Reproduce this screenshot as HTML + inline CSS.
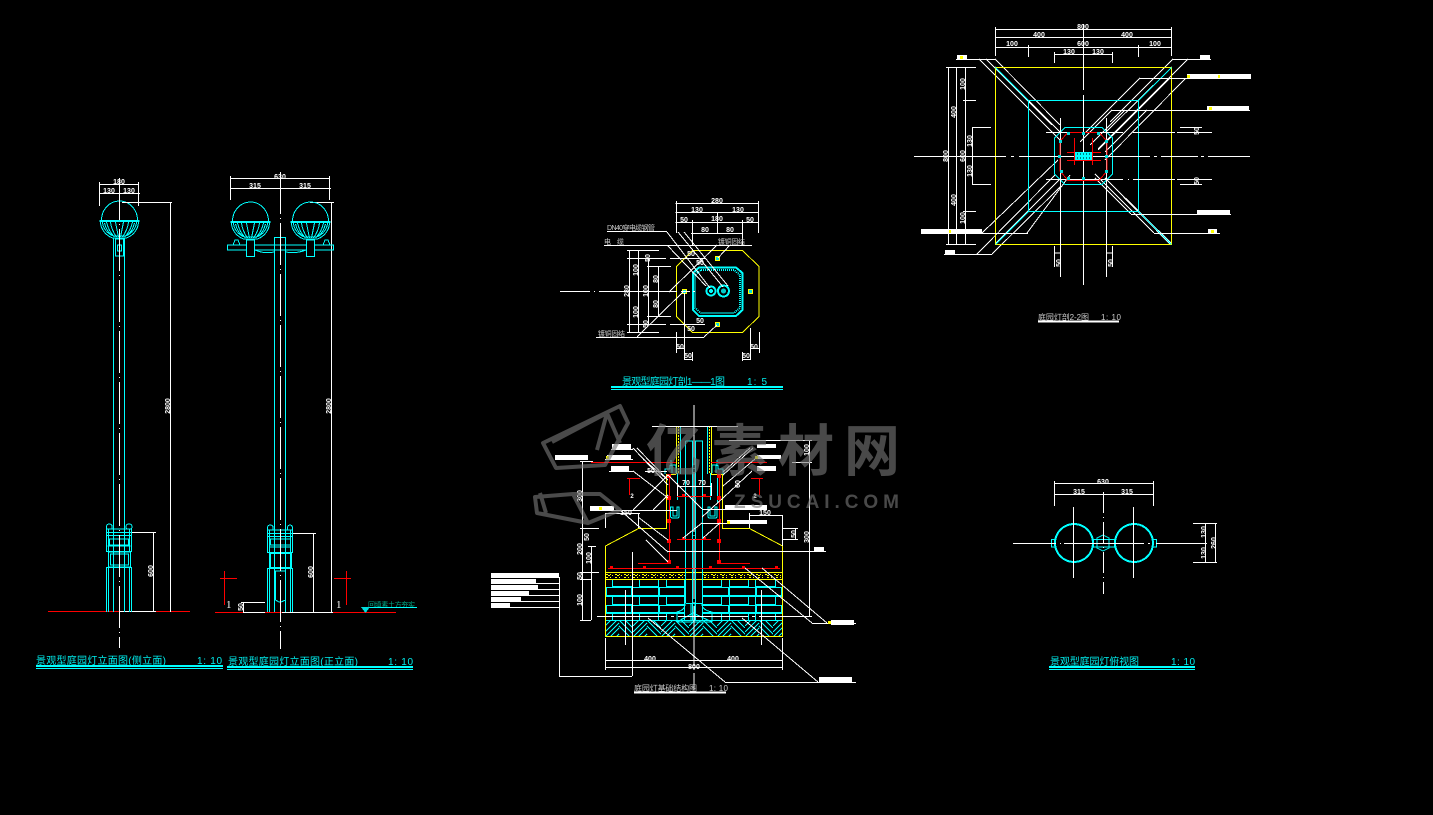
<!DOCTYPE html>
<html lang="zh"><head><meta charset="utf-8"><title>景观型庭园灯</title>
<style>
html,body{margin:0;padding:0;background:#000;width:1433px;height:815px;overflow:hidden}
svg{display:block}
.w{fill:none;stroke:#fff;stroke-width:1}
.c{fill:none;stroke:#0ff;stroke-width:1}
.c2{fill:none;stroke:#0ff;stroke-width:2}
.r{fill:none;stroke:#f00;stroke-width:1}
.y{fill:none;stroke:#ff0;stroke-width:1}
.t{font:bold 7px "Liberation Sans",sans-serif;fill:#fff;text-anchor:middle}
.ti{font:10px "Liberation Sans","Noto Sans CJK SC",sans-serif;fill:#0ee}
.tw{font:9px "Liberation Sans","Noto Sans CJK SC",sans-serif;fill:#ccc}
</style></head><body>
<svg width="1433" height="815" viewBox="0 0 1433 815" xmlns="http://www.w3.org/2000/svg" shape-rendering="crispEdges">
<defs>
<g id="globe">
<path class="c" d="M-18 -1A18 19 0 0 1 18 -1"/>
<path class="c2" d="M-20 0H20"/>
<path class="c" d="M-19 1A20 18 0 0 0 -7 17H7A20 18 0 0 0 19 1M-17 1A18 16 0 0 0 -6 15H6A18 16 0 0 0 17 1"/>
<path class="c" d="M-13 1Q-11 10 -5 16M-9 1Q-8 9 -3 16M-4 1L-1 16M13 1Q11 10 5 16M9 1Q8 9 3 16M4 1L1 16M-15 2Q-13 10 -8 14M15 2Q13 10 8 14"/>
</g>
<pattern id="earth" width="28" height="17" patternUnits="userSpaceOnUse" patternTransform="translate(605 620)">
<path class="c" d="M0 6L6 0M0 12L12 0M0 17L14 3M5 17L14 8M11 17L14 14M14 0L31 17M20 0L28 8M14 6L25 17"/>
</pattern>
</defs>
<rect width="1433" height="815" fill="#000"/>

<!-- side elevation -->
<path class="r" d="M48 611.500H120M156 611.500H190"/>
<path class="w" d="M120 611.500H156"/>
<use href="#globe" x="119.500" y="221"/>
<path class="c" d="M113.500 238V612M124.500 238V612M115.500 239H123.500V256H115.500ZM117.500 245H121.500V251H117.500Z"/>
<path class="c" d="M106.500 529H131.500V551.500H106.500ZM108.500 529V551.500M129.500 529V551.500M106.500 532.500H131.500M106.500 535.500H131.500M109.500 539H128.500V545H109.500ZM107.500 546H130.500"/>
<path class="c" d="M108.500 552H130.500V567H108.500ZM110.500 554H128.500V565H110.500ZM106.500 567.500H131.500M106.500 567V612M108.500 567V612M129.500 567V612M131.500 567V612"/>
<path class="c" d="M106.500 529Q106 524 109 524Q113 524 112 529M126.500 529Q125 524 129 524Q133 524 131.500 529"/>
<path class="w" stroke-dasharray="42 4 1 4" d="M119.500 178V648"/>
<path class="w" d="M99.500 182V206M138.500 182V206M99 184.500H139M99 193.500H140M122 202.500H172M170.500 202V612M132 532.500H156M153.500 532V612"/>
<text class="t" x="119" y="184">180</text><text class="t" x="109" y="193">130</text><text class="t" x="129" y="193">130</text>
<text class="t" transform="rotate(-90 170 406)" x="170" y="406">2800</text>
<text class="t" transform="rotate(-90 153 571)" x="153" y="571">600</text>
<text class="ti" x="36" y="664" textLength="130" lengthAdjust="spacing">景观型庭园灯立面图(侧立面)</text>
<text class="ti" x="197" y="664" textLength="25" lengthAdjust="spacing">1: 10</text>
<path class="c2" d="M36 666H223"/><path class="c" d="M36 668.500H223"/>

<!-- front elevation -->
<path class="r" d="M215 612.500H396"/>
<path class="w" d="M243 612.500H265M282 612.500H333M241 602.500H265M243.500 602V612M293 533.500H316M313.500 533V612M230.500 176V200M329.500 176V200M230 178.500H330M230 188.500H331M310 202.500H334M331.500 202V612"/>
<use href="#globe" x="250.500" y="222"/><use href="#globe" x="310.500" y="222"/>
<path class="c" d="M274.500 237.500H285.500V612M274.500 237V612M227.500 245H333.500V250H227.500Z"/>
<rect x="247" y="241" width="7" height="15" fill="#000"/><rect x="307" y="241" width="7" height="15" fill="#000"/>
<path class="c" d="M246.500 240H254.500V256.500H246.500ZM306.500 240H314.500V256.500H306.500ZM255 250Q264 254 274 252M306 250Q296 254 286 252"/>
<path class="c" d="M233 245L235 240L238 240L240 245M323 245L325 240L328 240L330 245"/>
<path class="c" d="M267.500 530H292.500V552.500H267.500ZM269.500 530V552.500M290.500 530V552.500M267.500 533.500H292.500M267.500 536.500H292.500M270.500 539H290.500V545H270.500ZM269 547H291"/>
<path class="c2" d="M270 553H291V568H270Z"/>
<path class="c" d="M267.500 568.500H292.500M267.500 568V612M269.500 568V612M290.500 568V612M292.500 568V612M275.500 571H285.500V600L281 602H279L275.500 600Z"/>
<path class="c" d="M267.500 530Q267 525 270 525Q274 525 273 530M287.500 530Q287 525 290 525Q293 525 292.500 530"/>
<path class="w" stroke-dasharray="42 4 1 4" d="M280.500 172V649"/>
<path class="r" d="M224.500 571V605M220 578.500H237M346.500 571V605M334 578.500H351"/>
<text font-family="Liberation Serif,serif" font-size="11" fill="#fff" x="226" y="608">1</text>
<text font-family="Liberation Serif,serif" font-size="11" fill="#fff" x="336" y="608">1</text>
<text class="t" x="280" y="179">630</text><text class="t" x="255" y="188">315</text><text class="t" x="305" y="188">315</text>
<text class="t" transform="rotate(-90 331 406)" x="331" y="406">2800</text>
<text class="t" transform="rotate(-90 313 572)" x="313" y="572">600</text>
<text class="t" transform="rotate(-90 243 607)" x="243" y="607">50</text>
<text font-family="Liberation Sans,Noto Sans CJK SC,sans-serif" font-size="7" fill="#0a8" x="368" y="607" textLength="47" lengthAdjust="spacing">回填素土方夯实</text>
<path class="c" d="M366 607.500H417"/><path fill="#0dd" d="M361 607H370L365.500 613Z"/>
<text class="ti" x="228" y="665" textLength="130" lengthAdjust="spacing">景观型庭园灯立面图(正立面)</text>
<text class="ti" x="388" y="665" textLength="25" lengthAdjust="spacing">1: 10</text>
<path class="c2" d="M227 667H413"/><path class="c" d="M227 669.500H413"/>

<!-- section 1-1 -->
<path class="y" d="M692.500 250.500H742.500L759 266.500V316.500L742.500 332.500H692.500L676.500 316.500V266.500Z"/>
<path class="c2" d="M699 267.500H736L742.500 273V310L736 316H699L693 310V273Z"/>
<path fill="none" stroke="#0ff" stroke-width="2" stroke-dasharray="1 1" d="M701 270H734L740 275V308L734 313H701L695 308V275Z"/>
<circle class="c2" cx="711" cy="291" r="4.500"/><circle fill="#0ff" cx="711" cy="291" r="2"/>
<circle class="c2" cx="723.500" cy="291" r="5.500"/><circle fill="#0cc" cx="723.500" cy="291" r="2.500"/>
<g fill="#ff0"><rect x="715" y="256" width="5" height="5"/><rect x="715" y="322" width="5" height="5"/><rect x="682" y="289" width="5" height="5"/><rect x="748" y="289" width="5" height="5"/></g>
<g fill="#0dd"><rect x="716" y="257" width="3" height="3"/><rect x="716" y="323" width="3" height="3"/><rect x="683" y="290" width="3" height="3"/><rect x="749" y="290" width="3" height="3"/></g>
<path class="w" d="M675.500 203.500H759M675.500 212.500H759M675.500 222.500H759M691 233.500H743M676.500 201V233M758.500 201V233M692.500 220V245M742.500 220V245M717.500 212V233
M629.500 250V333M638.500 250V333M648.500 258V325M658.500 266V316M627 250.500H659M627 258.500H666M647 266.500H671M647 316.500H671M627 324.500H666M627 332.500H659
M670 258.500H705M670 324.500H705M684.500 293V360M750.500 328V360M676.500 332V353M759.500 332V353M676 348.500H684M751 348.500H760M684 359.500H693M743 359.500H751M692.500 352V361M742.500 352V361
M560 291.500H590M594 291.500H595M599 291.500H677M681 291.500H690M693 291.500H695
M607 231.500H667M604 245.500H752M596 337.500H704
M667 232L710 288M667 245L706 286M678 232L723 287M684 232L728 286M730 245L718 258M717 245L669 292M637 337L683 292M704 337L717 325"/>
<g class="t"><text class="t" x="717" y="203">280</text><text class="t" x="697" y="212">130</text><text class="t" x="738" y="212">130</text><text class="t" x="684" y="222">50</text><text class="t" x="717" y="221">180</text><text class="t" x="750" y="222">50</text><text class="t" x="705" y="232">80</text><text class="t" x="730" y="232">80</text>
<text class="t" x="691" y="256">50</text><text class="t" x="700" y="265">50</text><text class="t" x="700" y="323">50</text><text class="t" x="691" y="331">50</text><text class="t" x="680" y="349">50</text><text class="t" x="688" y="358">50</text><text class="t" x="746" y="358">50</text><text class="t" x="754" y="349">50</text></g>
<text class="t" transform="rotate(-90 629 291)" x="629" y="291">280</text>
<text class="t" transform="rotate(-90 638 270)" x="638" y="270">100</text>
<text class="t" transform="rotate(-90 638 312)" x="638" y="312">100</text>
<text class="t" transform="rotate(-90 648 258)" x="648" y="260">50</text>
<text class="t" transform="rotate(-90 648 291)" x="648" y="291">100</text>
<text class="t" transform="rotate(-90 648 324)" x="648" y="324">50</text>
<text class="t" transform="rotate(-90 658 279)" x="658" y="279">80</text>
<text class="t" transform="rotate(-90 658 304)" x="658" y="304">80</text>
<text class="tw" style="font-size:7px" x="607" y="230" textLength="48" lengthAdjust="spacing">DN40穿电缆钢管</text>
<text class="tw" style="font-size:7px" x="604" y="244" textLength="20" lengthAdjust="spacing">电 缆</text>
<text class="tw" style="font-size:7px" x="718" y="244" textLength="27" lengthAdjust="spacing">镀铜固结</text>
<text class="tw" style="font-size:7px" x="598" y="336" textLength="27" lengthAdjust="spacing">镀铜固结</text>
<text class="ti" x="622" y="385" textLength="103" lengthAdjust="spacing">景观型庭园灯剖1——1图</text>
<text class="ti" x="747" y="385" textLength="20" lengthAdjust="spacing">1: 5</text>
<path class="c2" d="M611 387H783"/><path class="c" d="M611 389.500H783"/>

<!-- section 2-2 -->
<path class="w" d="M995 59L1060 125M979 59L1060 140M986 59L1052 125M1173 59L1110 122M1188 59L1098 149M1140 78L1085 133M1186 78L1105 160M1170 78L1098 150M1112 110L1080 142M1147 110L1105 152M1125 110L1090 145M1131 214L1095 178M1154 233L1095 174M1170 244L1105 178M982 233L1058 160M1027 233L1070 175M977 254L1055 175M992 254L1060 187
M995 67L1060 132M1172 67L1106 132M995 244L1060 179M1172 244L1106 179"/>
<path class="y" d="M995.500 67.500H1171.500V244.500H995.500Z"/>
<path class="c" d="M1028.500 100.500H1138.500V211.500H1028.500ZM995.500 67.500L1028.500 100.500M1171.500 67.500L1138.500 100.500M995.500 244.500L1028.500 211.500M1171.500 244.500L1138.500 211.500"/>
<path class="c" d="M1065 127.500H1102L1112.500 138V174L1102 184.500H1065L1054.500 174V138Z"/>
<path class="w" d="M914 156.500H1006M1011 156.500H1014M1019 156.500H1150M1154 156.500H1157M1161 156.500H1198M1201 156.500H1204M1208 156.500H1250
M1083.500 24V90M1083.500 95V285M1060.500 118V277M1106.500 118V277
M1046 132.500H1123M1133 132.500H1175M1177 132.500H1212M1046 179.500H1123M1128 179.500H1129M1133 179.500H1175M1177 179.500H1212
M995.500 27V56M1171.500 27V56M1028.500 45V57M1138.500 45V57M995 29.500H1172M995 37.500H1172M995 47.500H1172M1054 54.500H1112M1054.500 52V63M1112.500 52V63
M948.500 67V244M956.500 67V244M965.500 67V244M946 67.500H976M946 244.500H976M963 100.500H976M963 211.500H976M972.500 127V184M972 127.500H991M972 184.500H991
M956 59.500H995M1173 59.500H1211M1140 78.500H1251M1111 110.500H1250M1131 214.500H1231M1154 233.500H1220M921 233.500H1028M944 254.500H992
M1054.500 246V267M1106.500 246V267M1112.500 246V267M1054 253H1060M1106 253H1113M1180 127.500H1202M1180 132.500H1202M1180 179.500H1202M1180 184.500H1202"/>
<path class="r" d="M1068 132.500H1099L1107 141V171L1099 180.500H1068L1060 171V141Z"/>
<path class="r" d="M1074.500 138V165M1092.500 138V165M1067 152.500H1101M1067 160.500H1101"/>
<rect x="1075" y="152" width="17" height="8" fill="#0ff"/>
<path stroke="#000" d="M1077 154H1090M1077 158H1090" stroke-dasharray="1 2" fill="none"/>
<g fill="#0dd"><rect x="1067" y="132" width="3" height="3"/><rect x="1082" y="132" width="3" height="3"/><rect x="1097" y="132" width="3" height="3"/><rect x="1059" y="140" width="3" height="3"/><rect x="1105" y="140" width="3" height="3"/><rect x="1058" y="155" width="3" height="3"/><rect x="1105" y="155" width="3" height="3"/><rect x="1060" y="170" width="3" height="3"/><rect x="1105" y="170" width="3" height="3"/><rect x="1067" y="177" width="3" height="3"/><rect x="1082" y="177" width="3" height="3"/></g>
<g fill="#fff"><rect x="957" y="55" width="10" height="4"/><rect x="1200" y="55" width="10" height="4"/><rect x="1187" y="74" width="64" height="4"/><rect x="1207" y="106" width="42" height="4"/><rect x="1197" y="210" width="33" height="4"/><rect x="1208" y="229" width="9" height="4"/><rect x="921" y="229" width="61" height="4"/><rect x="945" y="250" width="10" height="4"/></g>
<g fill="#ff0"><rect x="960" y="56" width="3" height="3"/><rect x="1187" y="75" width="3" height="3"/><rect x="1218" y="75" width="2" height="3"/><rect x="1209" y="107" width="3" height="3"/><rect x="1211" y="230" width="3" height="3"/><rect x="949" y="230" width="2" height="3"/></g>
<text class="t" x="1083" y="29">800</text><text class="t" x="1039" y="37">400</text><text class="t" x="1127" y="37">400</text><text class="t" x="1012" y="46">100</text><text class="t" x="1083" y="46">600</text><text class="t" x="1155" y="46">100</text><text class="t" x="1069" y="54">130</text><text class="t" x="1098" y="54">130</text>
<text class="t" transform="rotate(-90 948 156)" x="948" y="156">800</text>
<text class="t" transform="rotate(-90 956 112)" x="956" y="112">400</text>
<text class="t" transform="rotate(-90 956 200)" x="956" y="200">400</text>
<text class="t" transform="rotate(-90 965 84)" x="965" y="84">100</text>
<text class="t" transform="rotate(-90 965 156)" x="965" y="156">600</text>
<text class="t" transform="rotate(-90 965 218)" x="965" y="218">100</text>
<text class="t" transform="rotate(-90 972 141)" x="972" y="141">130</text>
<text class="t" transform="rotate(-90 972 171)" x="972" y="171">130</text>
<text class="t" transform="rotate(-90 1199 131)" x="1199" y="131">50</text>
<text class="t" transform="rotate(-90 1199 181)" x="1199" y="181">50</text>
<text class="t" x="1058" y="266" transform="rotate(-90 1058 263)">50</text>
<text class="t" x="1110" y="266" transform="rotate(-90 1110 263)">50</text>
<text class="tw" style="font-size:8px" x="1038" y="320" textLength="51" lengthAdjust="spacing">庭园灯剖2-2图</text>
<text class="tw" style="font-size:8px" x="1101" y="320" textLength="20" lengthAdjust="spacing">1: 10</text>
<path class="w" style="stroke-width:2" d="M1038 321.500H1119"/>

<!-- foundation -->
<path class="c" d="M605 587.500H685M605 596.500H685M605 605.500H685M605 613.500H685M702 587.500H782M702 596.500H782M702 605.500H782M702 613.500H782
M612.500 580V587M632.500 580V587M639.500 580V587M658.500 580V587M666.500 580V587M612 586.500H632M639 586.500H658M666 586.500H685M684.500 580V620
M606.500 588V596M631.500 588V596M632.500 588V596M658.500 588V596M659.500 588V596M606 595.500H631M632 595.500H658M659 595.500H685
M612.500 597V605M632.500 597V605M639.500 597V605M658.500 597V605M666.500 597V605M612 604.500H632M639 604.500H658M666 604.500H685
M606.500 606V613M631.500 606V613M632.500 606V613M658.500 606V613M659.500 606V613M606 612.500H631M632 612.500H658M659 612.500H685
M612.500 614V620M632.500 614V620M639.500 614V620M658.500 614V620M666.500 614V620
M702.500 580V620M721.500 580V587M729.500 580V587M748.500 580V587M755.500 580V587M775.500 580V587M702 586.500H721M729 586.500H748M755 586.500H775
M728.500 588V596M729.500 588V596M755.500 588V596M756.500 588V596M781.500 588V596M702 595.500H728M729 595.500H755M756 595.500H781
M721.500 597V605M729.500 597V605M748.500 597V605M755.500 597V605M775.500 597V605M702 604.500H721M729 604.500H748M755 604.500H775
M728.500 606V613M729.500 606V613M755.500 606V613M756.500 606V613M781.500 606V613M702 612.500H728M729 612.500H755M756 612.500H781
M721.500 614V620M729.500 614V620M748.500 614V620M755.500 614V620M775.500 614V620"/>
<rect x="605" y="620" width="177" height="17" fill="url(#earth)"/>
<path class="c" d="M605 620.500H782"/>
<path class="y" d="M605.500 636.500H782.500V546L749.500 528.500H722.500V474.500H711M605.500 636.500V546L638.500 528.500H666.500V474.500H676M605 572.500H782M605 579.500H782"/>
<path fill="none" stroke="#ff0" stroke-dasharray="2 2 1 4" d="M606 574.500H685M702 574.500H781M608 575.500H685M704 575.500H781M606 577.500H685M704 577.500H781"/>
<path class="y" d="M676.500 426V474M711.500 426V474"/><path fill="none" stroke="#ff0" stroke-dasharray="2 1" d="M678.500 426V474M709.500 426V474"/>
<path class="c" d="M680.500 426V474M707.500 426V474M685.500 441H692.500V620M695.500 620V441H702.500V603M685.500 441V603M685.500 603.500H702.500"/>
<path class="c" d="M672 473V465H676V473M665 474V469H670V465M712 473V465H716V473M723 474V469H718V465M671 460V466M717 460V466"/>
<path class="c" d="M669.500 474V503M677.500 473V500M717.500 474V503M710.500 473V500"/>
<path class="c" d="M670.500 507V516Q670.500 518 673 518H677Q679 518 679 516V507H677V516H673V507ZM708 507V516Q708 518 710 518H715Q717 518 717 516V507H715V516H710V507Z"/>
<path class="c" d="M685 604Q685 610 677 612V622M702 604Q702 610 712 612V622M677 622L693 613L712 622M677 622H712M691 603V620M695 603V620"/>
<path class="r" d="M591 462.500H676M711 462.500H767M669.500 475V563M719.500 475V563M638 563.500H669M719 563.500H750M608 568.500H780M677 496.500H711M677 539.500H711M629.500 478V495M627 478.500H640M759.500 478V495M751 478.500H763"/>
<g fill="#f00"><rect x="667" y="474" width="4" height="4"/><rect x="667" y="496" width="4" height="4"/><rect x="667" y="519" width="4" height="4"/><rect x="667" y="539" width="4" height="4"/><rect x="667" y="560" width="4" height="4"/><rect x="717" y="474" width="4" height="4"/><rect x="717" y="496" width="4" height="4"/><rect x="717" y="519" width="4" height="4"/><rect x="717" y="539" width="4" height="4"/><rect x="717" y="560" width="4" height="4"/><rect x="682" y="494" width="3" height="3"/><rect x="703" y="494" width="3" height="3"/><rect x="682" y="537" width="3" height="3"/><rect x="703" y="537" width="3" height="3"/><rect x="610" y="566" width="3" height="3"/><rect x="643" y="566" width="3" height="3"/><rect x="676" y="566" width="3" height="3"/><rect x="709" y="566" width="3" height="3"/><rect x="742" y="566" width="3" height="3"/><rect x="775" y="566" width="3" height="3"/></g>
<path class="w" d="M652 426.500H738M729 440.500H812M792 462.500H812M809.500 440V617M782 528.500H798M782 539.500H798M795.500 528V540
M580 461.500H593M582.500 461V620M580 528.500H599M580 572.500H599M580 579.500H591M580 620.500H591M591.500 546V620M588 546.500H596
M605.500 513V528M605 513.500H640M638.500 513V528M749.500 513V528M749 515.500H782M782.500 515V546
M611 449.500H633M605 459.500H633M609 471.500H633M590 510.500H677M702 509.500H767M702 523.500H767M645 471.500H667M668 551.500H826
M677.500 483V496M711.500 483V496M677 486.500H711
M625.500 590V645M761.500 590V645M632.500 552V676M559 676.500H632M559.500 577V676
M491 577.500H559M491 583.500H559M491 589.500H559M491 595.500H559M491 601.500H559M491 607.500H559
M605 660.500H783M605 667.500H783M605.500 638V670M782.500 638V670
M725 682.500H856M812 623.500H856
M633 448L668 485M637 448L668 480M633 471L668 498M620 510L668 552M638 517L668 540M753 448L723 475M750 448L723 472M755 459L723 486M752 471L723 498M633 510L668 475M653 510L668 495M702 509L668 475M702 523L683 538M720 523L703 538M723 498L702 517M648 618L725 682M742 618L818 682M745 568L812 623M762 568L827 623M646 540L668 562M643 459L668 480"/>
<path class="w" stroke-dasharray="60 3 1 3" d="M694 405V690"/>
<path class="w" stroke-dasharray="70 4 3 4" d="M597 616.500H812"/>
<g fill="#fff"><rect x="555" y="455" width="33" height="5"/><rect x="612" y="444" width="19" height="5"/><rect x="607" y="455" width="24" height="4"/><rect x="611" y="466" width="18" height="5"/><rect x="590" y="506" width="24" height="4"/><rect x="757" y="444" width="19" height="4"/><rect x="757" y="455" width="24" height="4"/><rect x="757" y="466" width="19" height="5"/><rect x="725" y="505" width="42" height="4"/><rect x="727" y="520" width="40" height="4"/><rect x="814" y="547" width="10" height="4"/><rect x="819" y="677" width="33" height="5"/><rect x="831" y="620" width="23" height="5"/>
<rect x="491" y="573" width="68" height="4"/><rect x="491" y="579" width="45" height="4"/><rect x="491" y="585" width="47" height="4"/><rect x="491" y="591" width="38" height="4"/><rect x="491" y="597" width="30" height="4"/><rect x="491" y="603" width="19" height="4"/></g>
<g fill="#ff0"><rect x="606" y="456" width="3" height="3"/><rect x="599" y="507" width="3" height="3"/><rect x="755" y="456" width="3" height="3"/><rect x="727" y="521" width="3" height="3"/><rect x="828" y="621" width="3" height="3"/></g>
<text class="t" x="686" y="485">70</text><text class="t" x="702" y="485">70</text><text class="t" x="626" y="515">150</text><text class="t" x="765" y="515">150</text><text class="t" x="650" y="661">400</text><text class="t" x="733" y="661">400</text><text class="t" x="694" y="669">800</text><text class="t" x="651" y="473">50</text>
<text class="t" x="632" y="498" style="font-size:6px">2</text><text class="t" x="755" y="498" style="font-size:6px">2</text>
<text class="t" transform="rotate(-90 582 496)" x="582" y="496">300</text>
<text class="t" transform="rotate(-90 582 549)" x="582" y="549">200</text>
<text class="t" transform="rotate(-90 589 537)" x="589" y="537">50</text>
<text class="t" transform="rotate(-90 591 558)" x="591" y="558">100</text>
<text class="t" transform="rotate(-90 582 576)" x="582" y="576">50</text>
<text class="t" transform="rotate(-90 582 600)" x="582" y="600">100</text>
<text class="t" transform="rotate(-90 809 450)" x="809" y="450">100</text>
<text class="t" transform="rotate(-90 809 537)" x="809" y="537">300</text>
<text class="t" transform="rotate(-90 796 534)" x="796" y="534">50</text>
<text class="t" transform="rotate(-90 740 484)" x="740" y="484">60</text>
<text class="tw" style="font-size:8px" x="634" y="691" textLength="63" lengthAdjust="spacing">庭园灯基础结构图</text>
<text class="tw" style="font-size:8px" x="709" y="691" textLength="19" lengthAdjust="spacing">1: 10</text>
<path class="w" style="stroke-width:2" d="M634 692.500H726"/>

<!-- plan view -->
<circle class="c2" cx="1074" cy="543" r="19"/><circle class="c2" cx="1134" cy="543" r="19"/>
<path class="c" d="M1051.500 539.500H1055.500V547H1051.500ZM1152.500 539.500H1156.500V547H1152.500ZM1093.500 539.500H1114.500V547H1093.500ZM1097 538L1103 535L1109 538V548L1103 551L1097 548Z"/>
<path class="w" d="M1013 543.500H1056M1060 543.500H1061M1064 543.500H1144M1148 543.500H1150M1156 543.500H1207M1073.500 507V578M1133.500 507V578M1054.500 481V506M1153.500 481V506M1054 483.500H1153M1054 494.500H1153M1193 523.500H1217M1193 562.500H1217M1205.500 523V563M1215.500 523V563"/>
<path class="w" stroke-dasharray="21 4 1 4" d="M1103.500 492V594"/>
<text class="t" x="1103" y="484">630</text><text class="t" x="1079" y="494">315</text><text class="t" x="1127" y="494">315</text>
<text class="t" transform="rotate(-90 1204 532)" x="1204" y="534">130</text>
<text class="t" transform="rotate(-90 1204 553)" x="1204" y="555">130</text>
<text class="t" transform="rotate(-90 1214 543)" x="1214" y="545">260</text>
<text class="ti" x="1050" y="665" textLength="89" lengthAdjust="spacing">景观型庭园灯俯视图</text>
<text class="ti" x="1171" y="665" textLength="24" lengthAdjust="spacing">1: 10</text>
<path class="c2" d="M1049 667H1195"/><path class="c" d="M1049 669.500H1195"/>

<!-- watermark -->
<g opacity=".62" shape-rendering="geometricPrecision">
<path fill="none" stroke="#777" stroke-width="4" stroke-linejoin="round" d="M543 443L620 406L628 423L605 465L556 468ZM552 442L607 413L620 443M607 413L597 450M535 497L573 494H600L620 510L588 523L537 513ZM540 493L546 513M573 494L588 523"/>
<text x="646" y="471" font-family="Liberation Sans,Noto Sans CJK SC,sans-serif" font-weight="700" font-size="56" fill="#777" textLength="254" lengthAdjust="spacing">亿素材网</text>
<text x="734" y="508" font-family="Liberation Sans,sans-serif" font-weight="700" font-size="19" fill="#777" textLength="165" lengthAdjust="spacing">ZSUCAI.COM</text>
</g>
</svg>
</body></html>
